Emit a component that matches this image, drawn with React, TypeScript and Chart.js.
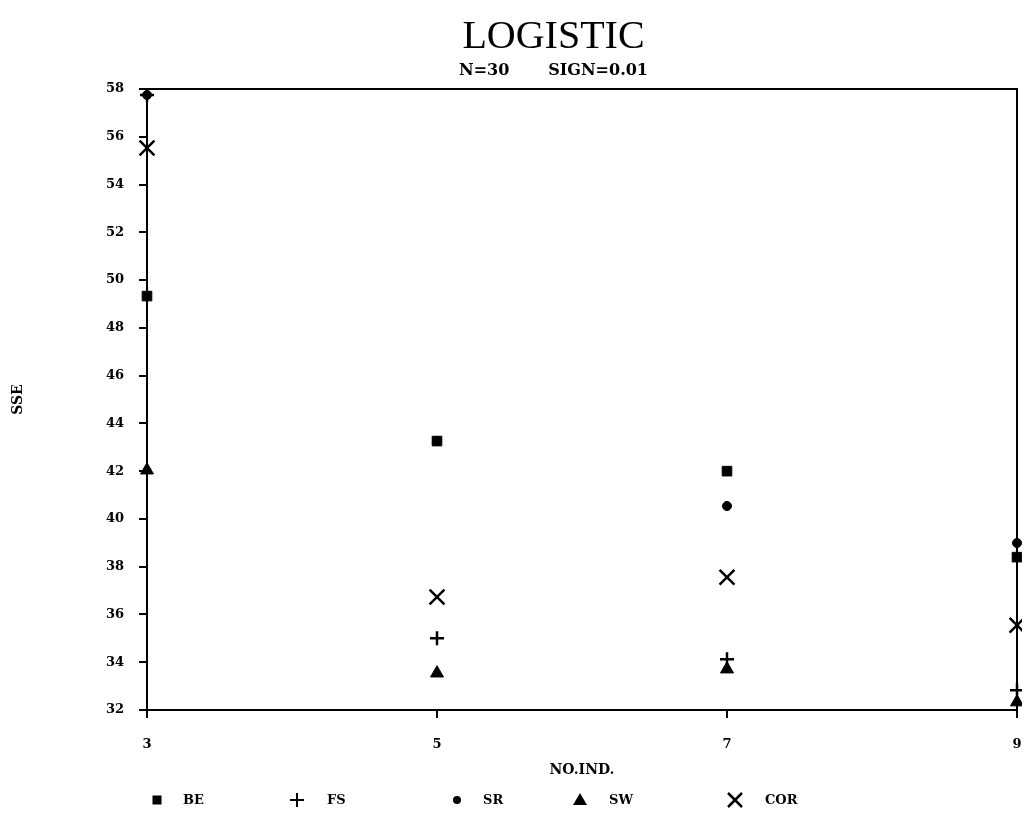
import React, { useEffect, useRef } from "react";
import { Chart, registerables } from "chart.js";

Chart.register(...registerables);

// ---- data ----
const xValues = [3, 5, 7, 9];
const seriesNames = ["BE", "FS", "SR", "SW", "COR"];
const beValues = [49.33, 43.26, 42.0, 38.4];
const fsValues = [57.75, 35.0, 34.13, 32.83];
const srValues = [57.75, 43.26, 40.54, 38.99];
const swValues = [42.04, 33.54, 33.71, 32.33];
const corValues = [55.53, 36.73, 37.56, 35.55];
const xTicks = [3, 5, 7, 9];
const yTicks = [32, 34, 36, 38, 40, 42, 44, 46, 48, 50, 52, 54, 56, 58];
const titleText = "LOGISTIC";
const subtitleText = "N=30       SIGN=0.01";
const xTitle = "NO.IND.";
const yTitle = "SSE";

const SERIF = "'Liberation Serif', 'DejaVu Serif', serif";
const MATRIX = "'DejaVu Serif', 'Liberation Serif', serif";

const toPoints = (vals: number[]) => vals.map((v, i) => ({ x: xValues[i], y: v }));

const framePlugin = {
  id: "frame",
  afterDraw(chart: any) {
    const { ctx, chartArea } = chart;
    ctx.save();
    ctx.strokeStyle = "#000";
    ctx.lineWidth = 2;
    ctx.beginPath();
    ctx.moveTo(chartArea.left - 1, chartArea.top);
    ctx.lineTo(chartArea.right, chartArea.top);
    ctx.lineTo(chartArea.right, chartArea.bottom);
    ctx.stroke();
    ctx.restore();
  },
};

// legend item positions (canvas px) — style only
const legendMarkerX = [149, 289, 449, 572, 727];
const legendTextX = [175, 319, 475, 601, 757];
const legendY = 792;

const legendPlugin = {
  id: "customLegend",
  afterDraw(chart: any) {
    const { ctx } = chart;
    ctx.save();
    ctx.fillStyle = "#000";
    ctx.strokeStyle = "#000";
    ctx.font = `bold 13px ${MATRIX}`;
    ctx.textBaseline = "middle";
    ctx.textAlign = "left";
    seriesNames.forEach((name, i) => {
      const cx = legendMarkerX[i];
      const cy = legendY;
      ctx.beginPath();
      if (i === 0) {
        ctx.fillRect(cx - 4.5, cy - 4.5, 9, 9);
      } else if (i === 1) {
        ctx.lineWidth = 2;
        ctx.moveTo(cx - 7, cy);
        ctx.lineTo(cx + 7, cy);
        ctx.moveTo(cx, cy - 7);
        ctx.lineTo(cx, cy + 7);
        ctx.stroke();
      } else if (i === 2) {
        ctx.arc(cx, cy, 4, 0, Math.PI * 2);
        ctx.fill();
      } else if (i === 3) {
        ctx.moveTo(cx, cy - 7);
        ctx.lineTo(cx + 7, cy + 5);
        ctx.lineTo(cx - 7, cy + 5);
        ctx.closePath();
        ctx.fill();
      } else {
        ctx.lineWidth = 2.5;
        ctx.moveTo(cx - 7, cy - 7);
        ctx.lineTo(cx + 7, cy + 7);
        ctx.moveTo(cx + 7, cy - 7);
        ctx.lineTo(cx - 7, cy + 7);
        ctx.stroke();
      }
      ctx.fillText(name, legendTextX[i], cy + 1);
    });
    ctx.restore();
  },
};

export default function App() {
  const canvasRef = useRef<HTMLCanvasElement | null>(null);

  useEffect(() => {
    if (!canvasRef.current) return;
    const common = {
      showLine: false,
      backgroundColor: "#000",
      borderColor: "#000",
      clip: false as any,
    };
    const chart = new Chart(canvasRef.current, {
      type: "scatter",
      data: {
        datasets: [
          { ...common, label: seriesNames[0], data: toPoints(beValues), pointStyle: "rect", pointRadius: 6.8, borderWidth: 1 },
          { ...common, label: seriesNames[1], data: toPoints(fsValues), pointStyle: "cross", pointRadius: 7, borderWidth: 2.5 },
          { ...common, label: seriesNames[2], data: toPoints(srValues), pointStyle: "circle", pointRadius: 4.5, borderWidth: 1 },
          { ...common, label: seriesNames[3], data: toPoints(swValues), pointStyle: "triangle", pointRadius: 7.5, borderWidth: 1 },
          { ...common, label: seriesNames[4], data: toPoints(corValues), pointStyle: "crossRot", pointRadius: 10.5, borderWidth: 2.5 },
        ],
      },
      options: {
        animation: false,
        responsive: false,
        maintainAspectRatio: false,
        devicePixelRatio: 1,
        layout: { autoPadding: false, padding: { top: 0, left: 82, right: 13, bottom: 0 } },
        plugins: {
          legend: { display: false },
          tooltip: { enabled: false },
          title: {
            display: true,
            text: titleText,
            color: "#000",
            font: { family: SERIF, size: 40, weight: "normal" as any },
            padding: { top: 5, bottom: 0 },
          },
          subtitle: {
            display: true,
            text: subtitleText,
            color: "#000",
            font: { family: MATRIX, size: 16, weight: "bold" as any, lineHeight: "19px" as any },
            padding: { top: 0, bottom: 9 },
          },
        },
        scales: {
          x: {
            type: "linear",
            position: "bottom",
            min: 3,
            max: 9,
            afterBuildTicks: (s: any) => {
              s.ticks = xTicks.map((v) => ({ value: v }));
            },
            afterFit: (s: any) => {
              s.height = 116;
            },
            ticks: {
              color: "#000",
              font: { family: MATRIX, size: 13, weight: "bold" as any, lineHeight: "54px" as any },
              padding: 0,
              maxRotation: 0,
              autoSkip: false,
            },
            grid: { drawOnChartArea: false, tickLength: 8, color: "#000", lineWidth: 2 },
            border: { display: true, color: "#000", width: 2 },
            title: {
              display: true,
              text: xTitle,
              color: "#000",
              font: { family: MATRIX, size: 14, weight: "bold" as any },
              padding: { top: 0, bottom: 47 },
            },
          },
          y: {
            type: "linear",
            position: "left",
            min: 32,
            max: 58,
            afterBuildTicks: (s: any) => {
              s.ticks = yTicks.map((v) => ({ value: v }));
            },
            afterFit: (s: any) => {
              s.width = 57;
            },
            ticks: {
              color: "#000",
              font: { family: MATRIX, size: 13, weight: "bold" as any },
              padding: 15,
              autoSkip: false,
            },
            grid: { drawOnChartArea: false, tickLength: 8, color: "#000", lineWidth: 2 },
            border: { display: true, color: "#000", width: 2 },
            title: {
              display: true,
              text: yTitle,
              color: "#000",
              font: { family: MATRIX, size: 14, weight: "bold" as any },
              padding: { top: -80, bottom: 0 },
            },
          },
        },
      },
      plugins: [framePlugin, legendPlugin],
    });
    return () => chart.destroy();
  }, []);

  return (
    <canvas
      ref={canvasRef}
      width={1022}
      height={818}
      style={{ display: "block", width: 1022, height: 818 }}
    />
  );
}
